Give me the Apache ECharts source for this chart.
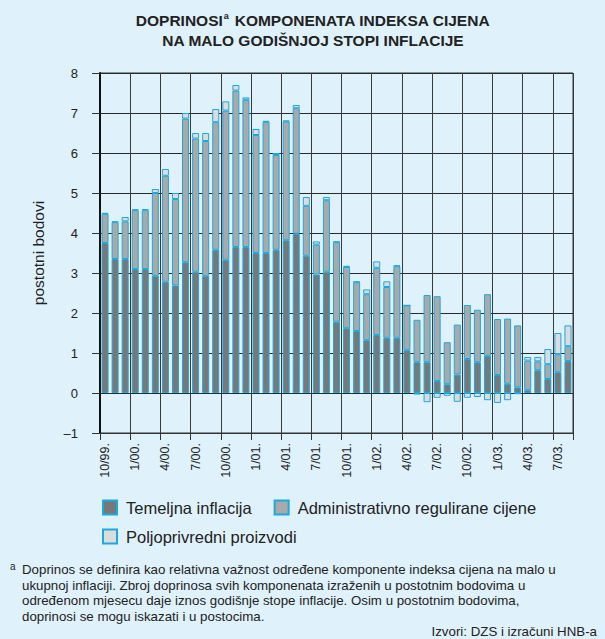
<!DOCTYPE html>
<html>
<head>
<meta charset="utf-8">
<script src="https://cdn.jsdelivr.net/npm/echarts@6/dist/echarts.min.js"></script>
<style>
html,body{margin:0;padding:0;background:#dff1fb;}
#chart{width:605px;height:639px;}
</style>
</head>
<body>
<div id="chart"></div>
<script>
var categories = ['10/99.','11/99.','12/99.','1/00.','2/00.','3/00.','4/00.','5/00.','6/00.','7/00.','8/00.','9/00.',
  '10/00.','11/00.','12/00.','1/01.','2/01.','3/01.','4/01.','5/01.','6/01.','7/01.','8/01.','9/01.',
  '10/01.','11/01.','12/01.','1/02.','2/02.','3/02.','4/02.','5/02.','6/02.','7/02.','8/02.','9/02.',
  '10/02.','11/02.','12/02.','1/03.','2/03.','3/03.','4/03.','5/03.','6/03.','7/03.','8/03.'];
var temeljna = [3.75,3.35,3.35,3.10,3.10,2.93,2.78,2.69,3.27,3.03,2.93,3.58,
  3.33,3.65,3.65,3.50,3.50,3.58,3.82,3.98,3.43,2.96,3.03,1.78,
  1.62,1.55,1.32,1.45,1.38,1.38,1.07,0.77,0.77,0.30,0.22,0.46,
  0.85,0.77,0.93,0.45,0.23,0.14,0.07,0.57,0.35,0.52,0.80];
var administrativno = [0.73,0.92,0.94,1.47,1.47,2.07,2.65,2.16,3.59,3.33,3.37,3.19,
  3.73,3.91,3.68,2.95,3.28,2.37,2.97,3.14,1.25,0.75,1.79,1.99,
  1.53,1.22,1.15,1.68,1.27,1.79,1.12,1.06,1.68,2.12,1.05,1.25,
  1.35,1.31,1.54,1.40,1.63,1.55,0.74,0.22,0.37,0.45,0.37];
var poljoprivredni = [0.02,0.02,0.11,0.02,0.03,0.10,0.17,0.15,0.14,0.14,0.20,0.33,
  0.23,0.14,0.06,0.15,0.02,0.05,0.02,0.08,0.22,0.08,0.08,0.02,
  0.03,0.02,0.12,0.16,0.14,0.02,0,-0.04,-0.23,-0.12,-0.07,-0.22,
  -0.12,-0.10,-0.18,-0.25,-0.18,-0.03,0.09,0.11,0.38,0.53,0.52];
var seriesNames = ['Temeljna inflacija','Administrativno regulirane cijene','Poljoprivredni proizvodi'];
var yTicks = {min:-1, max:8, interval:1};
var footnoteLines = [
  'Doprinos se definira kao relativna važnost određene komponente indeksa cijena na malo u',
  'ukupnoj inflaciji. Zbroj doprinosa svih komponenata izraženih u postotnim bodovima u',
  'određenom mjesecu daje iznos godišnje stope inflacije. Osim u postotnim bodovima,',
  'doprinosi se mogu iskazati i u postocima.'
];
var sourceText = 'Izvori: DZS i izračuni HNB-a';

var FONT = "'Liberation Sans', Arial, Helvetica, sans-serif";
var BORDER = '#1ba9e1';
var colors = ['#787878','#a9a9a9','#dcdcdc'];
var values = [temeljna, administrativno, poljoprivredni];

var chart = echarts.init(document.getElementById('chart'), null, {renderer:'svg'});
var series = seriesNames.map(function(n,i){
  return {
    name:n, type:'bar', stack:'total', barWidth:7,
    data: values[i],
    itemStyle:{color:colors[i], borderColor:BORDER, borderWidth:1},
    emphasis:{disabled:true}
  };
});
chart.setOption({
  backgroundColor:'#dff1fb',
  animation:false,
  textStyle:{fontFamily:FONT},
  title:{
    left:308, top:6, textAlign:'center',
    text:'{b|DOPRINOSI}{s|a}{b| KOMPONENATA INDEKSA CIJENA}\n{b|NA MALO GODIŠNJOJ STOPI INFLACIJE}',
    textStyle:{
      fontFamily:FONT,
      rich:{
        b:{fontSize:15.5, fontWeight:'bold', color:'#222', lineHeight:19.5, fontFamily:FONT},
        s:{fontSize:9, color:'#222', verticalAlign:'top', lineHeight:19.5, padding:[0,1,8,1], fontFamily:FONT}
      }
    }
  },
  grid:{left:100, right:32, top:73, bottom:206, show:true, borderColor:'#333', borderWidth:1, backgroundColor:'transparent'},
  legend:[
    {data:[seriesNames[0],seriesNames[1]], left:102, top:499, padding:0, itemWidth:14, itemHeight:14, itemGap:22, icon:'rect',
     textStyle:{fontSize:16.5, color:'#222', fontFamily:FONT, padding:[0,0,0,4]}},
    {data:[seriesNames[2]], left:102, top:528, padding:0, itemWidth:14, itemHeight:14, icon:'rect',
     textStyle:{fontSize:16.5, color:'#222', fontFamily:FONT, padding:[0,0,0,4]}}
  ],
  xAxis:{
    type:'category', data:categories, boundaryGap:true,
    axisLine:{onZero:false, lineStyle:{color:'#333', width:1}},
    axisTick:{show:true, interval:2, length:7, lineStyle:{color:'#333'}},
    axisLabel:{interval:2, rotate:90, margin:10, fontSize:12.5, color:'#222', fontFamily:FONT},
    splitLine:{show:true, interval:2, lineStyle:{color:'#3a3a3a', width:1}}
  },
  yAxis:{
    type:'value', min:yTicks.min, max:yTicks.max, interval:yTicks.interval,
    name:'postotni bodovi', nameLocation:'middle', nameGap:54, nameRotate:90,
    nameTextStyle:{fontSize:15.5, color:'#222', fontFamily:FONT},
    axisLine:{show:true, lineStyle:{color:'#111', width:2}},
    axisTick:{show:true, length:8, lineStyle:{color:'#333'}},
    axisLabel:{margin:22, fontSize:13, color:'#222', fontFamily:FONT,
      formatter:function(v){return v<0 ? '\u2013'+Math.abs(v) : String(v);}},
    splitLine:{show:true, lineStyle:{color:'#2a2a2a', width:1}}
  },
  graphic:[
    {type:'text', left:10, top:561, style:{text:'a', fontSize:10, fill:'#222', fontFamily:FONT}},
    {type:'text', left:22, top:562, style:{text:footnoteLines.join('\n'), fontSize:13.3, lineHeight:15.5, fill:'#222', fontFamily:FONT}},
    {type:'text', right:8, top:625, style:{text:sourceText, fontSize:13.3, fill:'#222', fontFamily:FONT}}
  ],
  series:series
});
</script>
</body>
</html>
